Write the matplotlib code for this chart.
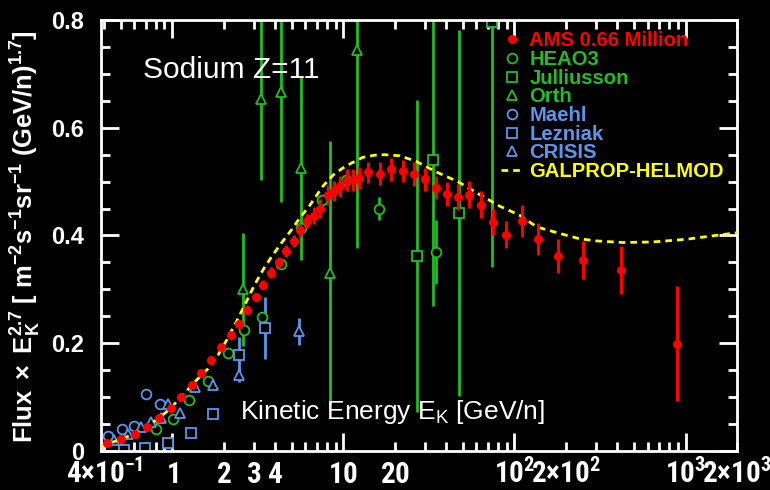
import matplotlib
matplotlib.use("Agg")
import matplotlib.pyplot as plt
from matplotlib import font_manager
from matplotlib.lines import Line2D
from matplotlib.ticker import FixedLocator, FuncFormatter, MultipleLocator


def pick_font(names, fallback):
    # first family in the list that is really installed
    for name in names:
        try:
            font_manager.findfont(font_manager.FontProperties(family=name, weight="bold"),
                                  fallback_to_default=False)
            return name, True
        except ValueError:
            pass
    return fallback, False


narrow, have_narrow = pick_font(["Liberation Sans Narrow", "Roboto Condensed",
                                 "DejaVu Sans Condensed"], "Liberation Sans")

plt.rcParams["font.family"] = ["Liberation Sans", "DejaVu Sans"]
plt.rcParams["mathtext.fontset"] = "custom"
plt.rcParams["mathtext.rm"] = narrow + ":bold"
plt.rcParams["mathtext.bf"] = "Liberation Sans:bold"
plt.rcParams["mathtext.sf"] = "Liberation Sans"
plt.rcParams["mathtext.it"] = "Liberation Sans:italic"

RED = "#ff0000"
GREEN = "#1fbf1f"
BLUE = "#5a96ee"
YELLOW = "#ffff00"

# AMS sodium flux x E^2.7
ams_e = [0.417, 0.504, 0.602, 0.711, 0.832, 0.977, 1.13, 1.30, 1.48, 1.69,
         1.93, 2.19, 2.44, 2.74, 3.07, 3.41, 3.79, 4.20, 4.63, 5.13,
         5.61, 6.15, 6.75, 7.35, 8.11, 8.79, 9.58, 10.5, 11.35, 12.3,
         13.9, 16.3, 19.0, 22.2, 25.8, 29.9, 34.7, 40.2, 46.9, 54.3,
         63.5, 74.6, 89.7, 110, 137, 179, 253, 417, 886]
ams_f = [0.014, 0.022, 0.032, 0.045, 0.061, 0.079, 0.101, 0.123, 0.145, 0.168,
         0.193, 0.215, 0.236, 0.262, 0.286, 0.309, 0.331, 0.350, 0.372, 0.390,
         0.410, 0.427, 0.437, 0.450, 0.475, 0.483, 0.491, 0.503, 0.503, 0.507,
         0.517, 0.515, 0.523, 0.520, 0.514, 0.504, 0.489, 0.477, 0.472, 0.476,
         0.457, 0.425, 0.401, 0.427, 0.393, 0.362, 0.354, 0.336, 0.199]
ams_err = [0.002, 0.002, 0.002, 0.002, 0.003, 0.003, 0.003, 0.003, 0.004, 0.004,
           0.005, 0.006, 0.007, 0.008, 0.008, 0.009, 0.010, 0.010, 0.011, 0.011,
           0.012, 0.013, 0.015, 0.017, 0.018, 0.019, 0.020, 0.021, 0.021, 0.021,
           0.020, 0.021, 0.021, 0.021, 0.022, 0.022, 0.022, 0.023, 0.024, 0.025,
           0.025, 0.025, 0.025, 0.029, 0.030, 0.031, 0.035, 0.045, 0.107]

heao_e = [0.806, 1.01, 1.26, 1.61, 2.11, 2.64, 3.35, 4.33, 5.62, 7.5, 10.4, 16.1, 34.8]
heao_f = [0.041, 0.059, 0.094, 0.130, 0.182, 0.225, 0.249, 0.347, 0.413, 0.466, 0.503, 0.450, 0.369]
heao_err = [0, 0, 0, 0, 0, 0, 0, 0, 0, 0, 0, 0.022, 0.059]

jul_e = [26.8, 33.6, 47.2, 73.9]
jul_f = [0.362, 0.540, 0.442, 0.796]
jul_err = [0.29, 0.27, 0.34, 0.454]

orth_e = [2.59, 3.31, 4.33, 5.69, 8.32, 12.0]
orth_f = [0.300, 0.653, 0.667, 0.525, 0.331, 0.744]
orth_err = [0.105, 0.15, 0.204, 0.17, 0.245, 0.367]

maehl_e = [0.421, 0.508, 0.594, 0.705, 0.85]
maehl_f = [0.027, 0.041, 0.047, 0.106, 0.087]

lez_e = [0.52, 0.695, 0.943, 1.29, 1.74, 2.46, 3.46]
lez_f = [0.002, 0.006, 0.015, 0.034, 0.069, 0.179, 0.228]
lez_err = [0, 0, 0, 0, 0, 0.032, 0.058]

crisis_e = [0.455, 0.55, 0.66, 0.754, 0.854, 0.95, 1.11, 1.36, 1.74, 2.46, 5.47]
crisis_f = [0.020, 0.031, 0.044, 0.054, 0.061, 0.087, 0.071, 0.119, 0.122, 0.141, 0.222]
crisis_err = [0, 0, 0, 0, 0, 0, 0, 0, 0, 0.013, 0.025]

# GALPROP-HELMOD model curve
model_e = [0.38, 0.5, 0.65, 0.8, 0.92, 1.05, 1.18, 1.35, 1.61, 1.85,
           2.08, 2.37, 2.68, 3.02, 3.43, 3.87, 4.39, 4.96, 5.55, 6.33,
           7.57, 8.69, 9.9, 11.1, 12.96, 15.2, 17.4, 21.3, 26.5, 34.9,
           46.7, 61.1, 81.3, 106.7, 135, 183, 240, 300, 431, 645,
           1013, 1580, 2000]
model_f = [0.010, 0.021, 0.038, 0.057, 0.072, 0.090, 0.107, 0.128, 0.152, 0.178,
           0.206, 0.240, 0.274, 0.308, 0.339, 0.364, 0.388, 0.410, 0.432, 0.455,
           0.491, 0.512, 0.525, 0.534, 0.545, 0.549, 0.550, 0.548, 0.538, 0.518,
           0.500, 0.478, 0.455, 0.438, 0.416, 0.404, 0.394, 0.390, 0.387, 0.388,
           0.393, 0.401, 0.405]

xtick_vals = [0.4, 1, 2, 3, 4, 10, 20, 100, 200, 1000, 2000]
xtick_text = [r"$4{\times}10^{-1}$", "$1$", "$2$", "$3$", "$4$", "$10$", "$20$",
              r"$10^{2}$", r"$2{\times}10^{2}$", r"$10^{3}$", r"$2{\times}10^{3}$"]
ytick_vals = [0, 0.2, 0.4, 0.6, 0.8]
ytick_text = ["0", "0.2", "0.4", "0.6", "0.8"]

fig = plt.figure(figsize=(7.7, 4.9), dpi=100, facecolor="black")
ax = fig.add_axes([101 / 770, 1 - 451 / 490, 636 / 770, 431 / 490], facecolor="black")

open_kw = dict(ls="none", mfc="black", mew=1.3, capsize=0, elinewidth=2, zorder=2)
ax.errorbar(heao_e, heao_f, yerr=heao_err, fmt="o", ms=7, color=GREEN, mec=GREEN, **open_kw)
ax.errorbar(jul_e, jul_f, yerr=jul_err, fmt="s", ms=7, color=GREEN, mec=GREEN, **open_kw)
ax.errorbar(orth_e, orth_f, yerr=orth_err, fmt="^", ms=7.5, color=GREEN, mec=GREEN, **open_kw)
ax.plot(maehl_e, maehl_f, "o", ms=7, mfc="none", mec=BLUE, mew=1.3, zorder=2)
ax.errorbar(lez_e, lez_f, yerr=lez_err, fmt="s", ms=7, color=BLUE, mec=BLUE, **open_kw)
ax.errorbar(crisis_e, crisis_f, yerr=crisis_err, fmt="^", ms=7.5, color=BLUE, mec=BLUE, **open_kw)

ax.plot(model_e, model_f, color=YELLOW, lw=2, dashes=(2.4, 1.8), zorder=3)

ax.errorbar(ams_e, ams_f, yerr=ams_err, fmt="o", ms=5.5, color=RED, elinewidth=2.2,
            capsize=0, zorder=4)

ax.set_xscale("log")
ax.set_xlim(0.383, 2000)
ax.set_ylim(0, 0.8)

major_x = [1, 10, 100, 1000]
minor_x = [v * d for d in (0.1, 1, 10, 100) for v in range(2, 10) if v * d > 0.38] + [2000]
xlabel_map = {round(v, 3): t for v, t in zip(xtick_vals, xtick_text)}
ax.xaxis.set_major_locator(FixedLocator(major_x))
ax.xaxis.set_minor_locator(FixedLocator(minor_x))
fmt = FuncFormatter(lambda v, pos: xlabel_map.get(round(v, 3), ""))
ax.xaxis.set_major_formatter(fmt)
ax.xaxis.set_minor_formatter(fmt)

ax.set_yticks(ytick_vals)
ax.set_yticklabels(ytick_text)
ax.yaxis.set_minor_locator(MultipleLocator(0.05))

for s in ax.spines.values():
    s.set_color("white")
    s.set_linewidth(2)
ax.tick_params(which="both", direction="in", colors="white", top=True, right=True, width=2)
ax.tick_params(which="major", length=13)
ax.tick_params(which="minor", length=6.5)
xsize = 21 if have_narrow else 15.5
ax.tick_params(axis="x", which="both", labelsize=xsize, pad=23)
ax.tick_params(axis="y", which="major", labelsize=17, pad=12)
for lbl in ax.get_yticklabels():
    lbl.set_fontweight("bold")
for t in ax.xaxis.get_major_ticks() + ax.xaxis.get_minor_ticks():
    t.label1.set_va("baseline")

fig.text(26 / 770, 1 - 237 / 490,
         r"$\mathbf{Flux\ \times\ E_{K}^{2.7}\ [\ m^{-2}s^{-1}sr^{-1}\ (GeV/n)^{1.7}]}$",
         rotation=90, ha="center", va="center", color="white", fontsize=18.4)
fig.text(143 / 770, 1 - 78 / 490, "Sodium Z=11", color="white", fontsize=21.5, va="baseline")
fig.text(240 / 770, 1 - 419 / 490, r"Kinetic Energy E$_{\mathsf{K}}$ [GeV/n]",
         color="white", fontsize=19, va="baseline")

handles = [
    Line2D([], [], ls="none", marker="o", ms=5.5, color=RED),
    Line2D([], [], ls="none", marker="o", ms=7, mfc="none", mec=GREEN, mew=1.3),
    Line2D([], [], ls="none", marker="s", ms=7, mfc="none", mec=GREEN, mew=1.3),
    Line2D([], [], ls="none", marker="^", ms=7.5, mfc="none", mec=GREEN, mew=1.3),
    Line2D([], [], ls="none", marker="o", ms=7, mfc="none", mec=BLUE, mew=1.3),
    Line2D([], [], ls="none", marker="s", ms=7, mfc="none", mec=BLUE, mew=1.3),
    Line2D([], [], ls="none", marker="^", ms=7.5, mfc="none", mec=BLUE, mew=1.3),
    Line2D([], [], color=YELLOW, lw=2, dashes=(2.4, 1.8)),
]
labels = ["AMS 0.66 Million", "HEAO3", "Julliusson", "Orth", "Maehl", "Lezniak",
          "CRISIS", "GALPROP-HELMOD"]
ax.legend(handles, labels, loc="upper left", bbox_to_anchor=(0.629, 0.974),
          frameon=False, prop={"weight": "bold", "size": 14.6}, labelspacing=-0.015,
          handlelength=1.1, handletextpad=0.3, borderpad=0, borderaxespad=0,
          labelcolor=[RED, GREEN, GREEN, GREEN, BLUE, BLUE, BLUE, YELLOW])

fig.savefig("out.png", dpi=100, facecolor="black")
